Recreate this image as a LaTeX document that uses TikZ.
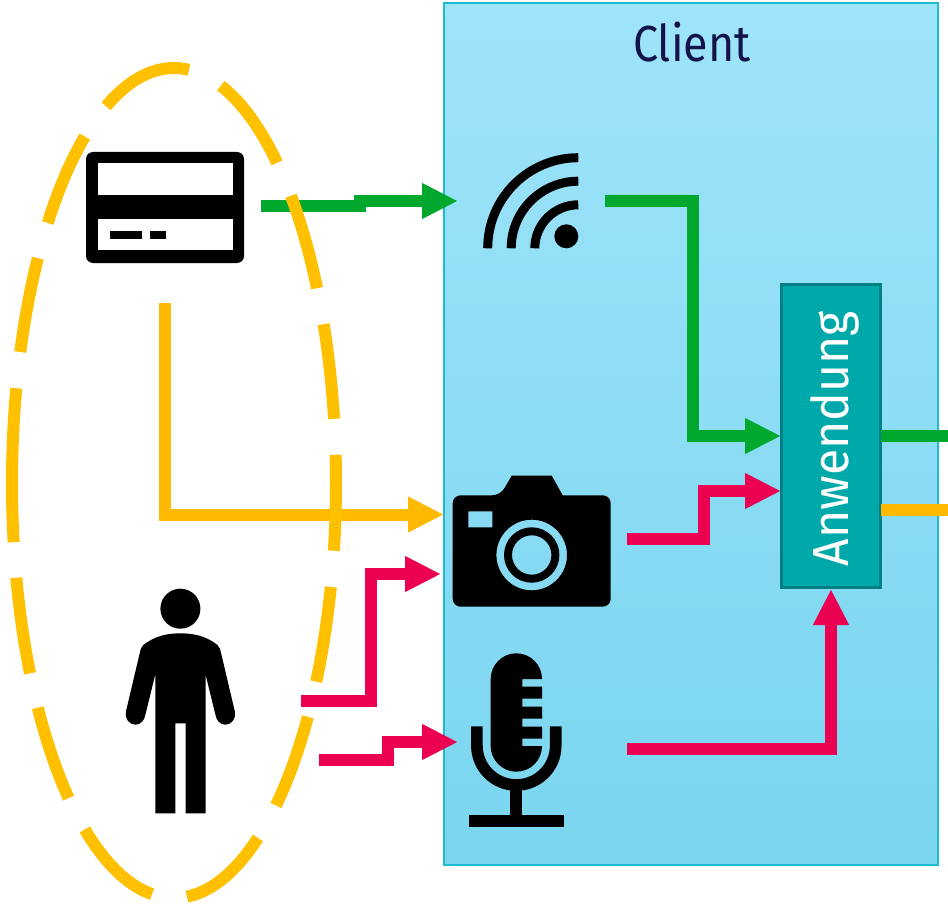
\documentclass[tikz,border=0pt]{standalone}
\usepackage{fontspec}
\setmainfont{Fira Sans}
\usetikzlibrary{arrows.meta}
\definecolor{ringorange}{HTML}{FFC000}
\definecolor{linkorange}{HTML}{FFB900}
\definecolor{linkgreen}{HTML}{00A82D}
\definecolor{linkpink}{HTML}{EB0052}
\definecolor{clienttop}{HTML}{9EE4FA}
\definecolor{clientbottom}{HTML}{7AD5EF}
\definecolor{clientedge}{HTML}{1CBBD2}
\definecolor{appfill}{HTML}{00A9A9}
\definecolor{appedge}{HTML}{007F85}
\definecolor{titleink}{HTML}{14144A}
\tikzset{
  x=0.75pt,y=-0.75pt,
  link/.style={line width=9pt,miter limit=10,-{Triangle[length=27pt,width=25pt]}},
  plainlink/.style={line width=9pt},
  ringdash/.style={line width=9pt,color=ringorange},
  iconline/.style={line width=6.75pt,black},
  wifiarc/.style={line width=6.75pt,black},
  clientbox/.style={draw=clientedge,line width=1.1pt,top color=clienttop,bottom color=clientbottom,
    minimum width=370.5pt,minimum height=646.5pt,inner sep=0pt},
  appbox/.style={draw=appedge,line width=2.25pt,fill=appfill,minimum width=74.25pt,minimum height=227.25pt,inner sep=0pt},
  titletext/.style={font=\fontsize{38}{38}\selectfont,text=titleink,inner sep=0pt},
  apptext/.style={font=\fontsize{38}{38}\selectfont,text=white,inner sep=0pt,rotate=90},
}
\begin{document}
\begin{tikzpicture}
\useasboundingbox (0,0) rectangle (948,909);
\fill[white] (0,0) rectangle (948,909);

% Client panel and application box
\node[clientbox] (client) at (691,434) {};
\node[titletext] (clienttitle) at (692,42) {\scalebox{0.886}[1]{Client}};
\node[appbox] (app) at (831,436) {};
\node[apptext] (apptitle) at (835,438.5) {\scalebox{0.951}[1]{Anwendung}};

% Connector ends
\coordinate (cardout) at (261,206.5);
\coordinate (wifiin) at (458,201);
\coordinate (wifiout) at (605,201);
\coordinate (cardbottom) at (165,303);
\coordinate (camin) at (444,514.5);
\coordinate (personA) at (301,701);
\coordinate (camlens) at (441,574);
\coordinate (personB) at (319,760);
\coordinate (micin) at (458,742);
\coordinate (camout) at (627,539);
\coordinate (micout) at (627,749);
\coordinate (appgreen) at (781,436);
\coordinate (apppink) at (781,491);
\coordinate (appbottom) at (831,589);
\coordinate (exitgreen) at (948,436);
\coordinate (exitorange) at (948,509.5);

% Connectors
\draw[link,linkgreen] (cardout) -- (360,206.5) -- (360,201) -- (wifiin);
\draw[link,linkgreen] (wifiout) -- (693,201) -- (693,436) -- (appgreen);
\draw[link,linkorange] (cardbottom) -- (165,514.5) -- (camin);
\draw[link,linkpink] (personA) -- (371,701) -- (371,574) -- (camlens);
\draw[link,linkpink] (personB) -- (388,760) -- (388,742) -- (micin);
\draw[link,linkpink] (camout) -- (704,539) -- (704,491) -- (apppink);
\draw[link,linkpink] (micout) -- (831,749) -- (appbottom);
\draw[plainlink,linkgreen] (881,436) -- (exitgreen);
\draw[plainlink,linkorange] (881,509.5) -- (exitorange);

% Dashed ring
\foreach \a/\b in {114.8/84.7, 73.2/50.5, 43.8/28, 22.5/8.9, 3.9/-9.4, -14.5/-28.6,
  -34.3/-51, -58.8/-85.4, -97.8/-123.4, -130.6/-147.2, -152.7/-166.8, -171.8/-193.2,
  -198.4/-212.8, -218.8/-236.6}
  \draw[ringdash] plot[domain=\a:\b,samples=32,smooth] ({174+162*cos(\x)},{483-415*sin(\x)});

% Card icon
\fill[black,rounded corners=5.25pt] (86,152) rectangle (244,263);
\fill[white] (98.3,163.3) rectangle (232.7,195);
\fill[white] (98.3,219) rectangle (232.7,250);
\fill[black] (110,231) rectangle (142,239);
\fill[black] (150,231) rectangle (166,239);

% Wifi icon
\draw[wifiarc] (487.7,248.3) arc[start angle=180,end angle=270,radius=90.6];
\draw[wifiarc] (511.2,248.3) arc[start angle=180,end angle=270,radius=67.1];
\draw[wifiarc] (534.8,248.3) arc[start angle=180,end angle=270,radius=43.5];
\fill[black] (566.3,236.3) circle[radius=12];

% Camera icon
\fill[black,even odd rule,rounded corners=6pt]
  (452.7,495.3) -- (500.3,495.3) [sharp corners] -- (511.7,475.7) -- (551.7,475.7) -- (562.7,495.3)
  [rounded corners=6pt] -- (610.7,495.3) -- (610.7,606.7) -- (452.7,606.7) -- cycle
  [sharp corners] (468.3,511.3) rectangle (492.3,527.3)
  (531.7,555) circle[radius=35.3]
  (531.7,555) circle[radius=27.7]
  (531.7,555) circle[radius=19.7];

% Microphone icon
\fill[black] (490.7,679) .. controls (490.7,664.8) and (502.2,653.3) .. (516.35,653.3)
  .. controls (530.5,653.3) and (542,664.8) .. (542,679)
  -- (522.3,679) -- (522.3,686.7) -- (542,686.7) -- (542,698.7) -- (522.3,698.7)
  -- (522.3,706.7) -- (542,706.7) -- (542,718.7) -- (522.3,718.7)
  -- (522.3,726.7) -- (542,726.7) -- (542,738.7) -- (522.3,738.7)
  -- (522.3,746) -- (542,746)
  .. controls (542,760.2) and (530.5,771.7) .. (516.35,771.7)
  .. controls (502.2,771.7) and (490.7,760.2) .. (490.7,746) -- cycle;
\draw[iconline,line width=8.75pt] (476.9,726.3) -- (476.9,745.6)
  .. controls (476.9,767.4) and (494.5,785) .. (516.3,785)
  .. controls (538.1,785) and (555.7,767.4) .. (555.7,745.6) -- (555.7,726.3);
\fill[black] (510.3,785) rectangle (522.3,816);
\fill[black] (469,815.3) rectangle (563.7,827.3);

% Person icon
\fill[black] (180.4,608.7) circle[radius=20];
\fill[black] (180.4,633.3) .. controls (160,633.3) and (150,640) .. (143.3,645)
  .. controls (141,647) and (140.5,650) .. (140,652)
  -- (125.9,711.7) .. controls (124.5,718) and (129,724.7) .. (135.3,724.7)
  .. controls (140.5,724.7) and (144.5,720.5) .. (145.3,715)
  -- (155.3,674.3) -- (155.3,813.3) -- (175.3,813.3) -- (175.3,723.3) -- (185.5,723.3)
  -- (185.5,813.3) -- (205.5,813.3) -- (205.5,674.3) -- (215.5,715)
  .. controls (216.3,720.5) and (220.3,724.7) .. (225.5,724.7)
  .. controls (231.8,724.7) and (236.3,718) .. (234.9,711.7)
  -- (220.8,652) .. controls (220.3,650) and (219.8,647) .. (217.5,645)
  .. controls (210.8,640) and (200.8,633.3) .. (180.4,633.3) -- cycle;
\end{tikzpicture}
\end{document}
